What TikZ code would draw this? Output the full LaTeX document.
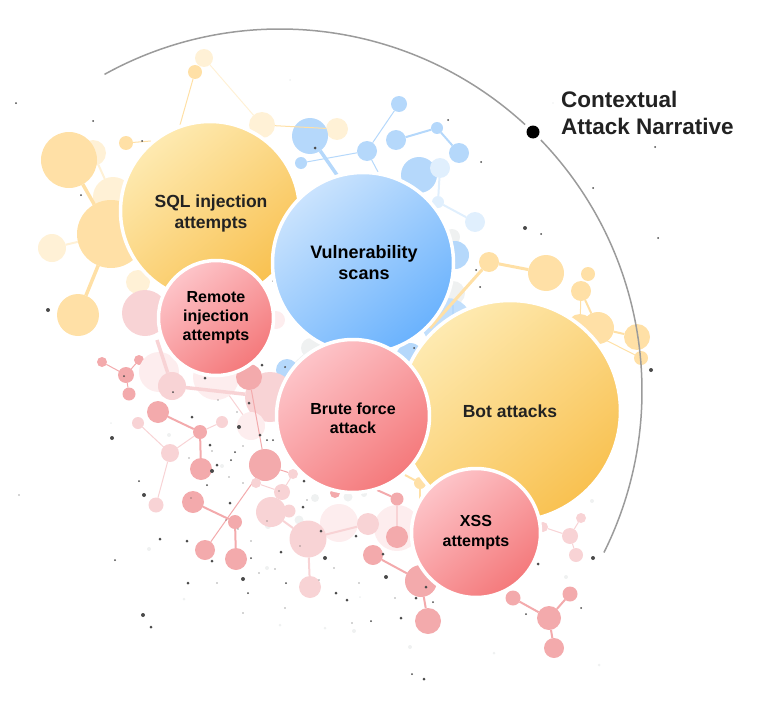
\documentclass[tikz,border=0pt]{standalone}
\usepackage{fontspec}
\setmainfont{Liberation Sans}
\definecolor{oc}{HTML}{FFE0A6}
\definecolor{ol}{HTML}{FFF1D6}
\definecolor{bc}{HTML}{B5D8FB}
\definecolor{bl}{HTML}{E0EFFD}
\definecolor{rc}{HTML}{F3AAAC}
\definecolor{rl}{HTML}{F8D3D5}
\definecolor{rv}{HTML}{FDEDEE}
\definecolor{gv}{HTML}{EFF1F1}
\definecolor{dotc}{HTML}{4A4A4A}
\definecolor{arcc}{HTML}{9B9B9B}
\definecolor{txt}{HTML}{222222}
\pgfdeclareverticalshading{orangeg}{100bp}{rgb(0bp)=(.97,.725,.24); rgb(15bp)=(.97,.725,.24); rgb(85bp)=(1,.95,.77); rgb(100bp)=(1,.95,.77)}
\pgfdeclareverticalshading{blueg}{100bp}{rgb(0bp)=(.34,.66,.99); rgb(15bp)=(.34,.66,.99); rgb(85bp)=(.87,.93,.995); rgb(100bp)=(.87,.93,.995)}
\pgfdeclareverticalshading{redg}{100bp}{rgb(0bp)=(.95,.415,.42); rgb(15bp)=(.95,.415,.42); rgb(85bp)=(1,.83,.85); rgb(100bp)=(1,.83,.85)}
\newcommand{\mol}[5]{\node[mol,fill=#5,minimum size=2*#4 pt] (#1) at (#2,#3) {};}
\tikzset{
  mol/.style={circle,inner sep=0pt,outer sep=0pt,draw=none},
  bigc/.style={circle,inner sep=0pt,outer sep=0pt,draw=white,line width=3.5pt,align=center,shade,shading angle=40,font=\bfseries},
  thk/.style={line width=3.5pt},
  med/.style={line width=2pt},
  thn/.style={line width=1pt}
}
\begin{document}
\begin{tikzpicture}[x=1pt,y=-1pt]
\useasboundingbox (0,0) rectangle (763,701);
% --- pale grey specks
\foreach \x/\y/\r in {169/435/2,111/423/1,222/466/2,315/498/4,348/497/4.5,364/494/3,299/520/4.5,268/526/3,149/549/2,267/568/2,184/599/1.5,280/625/1.5,325/628/1.5,354/631/2,360/597/1,592/501/2,566/577/2,410/647/2,494/653/1.5,599/665/1.5,553/103/.8,430/165/.8,290/80/1}
  \fill[gv] (\x,\y) circle[radius=\r pt];
% --- orange molecule, upper left
\mol{ob}{93}{153}{13}{ol}
\mol{oe}{113}{197}{20}{ol}
\mol{of}{138}{282}{12}{ol}
\mol{og}{204}{58}{9}{ol}\mol{oh}{195}{72}{7}{oc}\mol{oi}{262}{125}{13}{ol}\mol{oj}{337}{129}{11}{ol}
\mol{ok}{126}{143}{7}{oc}
\coordinate (okend) at (151,141);
\coordinate (ohend) at (180,125);
\mol{oc}{111}{234}{34}{oc}\mol{od}{52}{248}{14}{ol}\mol{om}{78}{315}{21}{oc}
\mol{oa}{69}{160}{28}{oc}
\draw[oc,thk] (oa)--(oc);
\draw[ol,med] (ob)--(oe);
\draw[ol,med] (od)--(oc);
\draw[oc,thk] (oc)--(om);
\draw[oc,thn] (ok)--(okend);
\draw[oc,thn] (oh)--(ohend);
\draw[ol,thn] (og)--(oi);
% --- blue molecule, top
\mol{ba}{310}{136}{18}{bc}\mol{bb}{301}{163}{6}{bc}\mol{bc}{367}{151}{10}{bc}\mol{bd}{399}{104}{8}{bc}
\mol{be}{396}{140}{10}{bc}\mol{bf}{437}{128}{6}{bc}\mol{bg}{459}{153}{10}{bc}
\mol{bh}{419}{175}{18}{bc}\mol{bi}{440}{168}{10}{bl}\mol{bj}{438}{202}{6}{bl}\mol{bk}{475}{222}{10}{bl}
\coordinate (baend) at (337,175);
\coordinate (bcend) at (378,172);
\draw[bc,thn] (bb)--(bc);
\draw[bc,thk] (ba)--(baend);
\draw[bc,thn] (bc)--(bd);
\draw[bc,thn] (bc)--(bcend);
\draw[bc,med] (be)--(bf);
\draw[bc,med] (bf)--(bg);
\draw[bl,med] (bi)--(bj);
\draw[bl,med] (bj)--(bk);
\draw[oc,thn] (oi)--(oj);
% --- blue and grey, centre
\mol{ga}{452}{237}{8}{gv}\mol{gb}{453}{293}{12}{gv}\mol{gc}{311}{348}{10}{gv}
\mol{bm}{455}{255}{14}{bc}\mol{bn}{447}{323}{25}{bc!70!bl}\mol{bo}{287}{370}{11}{bc}\mol{bp}{410}{357}{14}{bc}
\coordinate (gbend) at (453,318);
\draw[bc,med] (gb)--(gbend);
\draw[gv,thn] (bo)--(gc);
% --- orange molecule, right
\mol{pa}{489}{262}{10}{oc}\mol{pb}{546}{273}{18}{oc}\mol{pc}{588}{274}{7}{oc}\mol{pd}{581}{291}{10}{oc}
\mol{pe}{580}{327}{13}{oc}\mol{pf}{598}{328}{16}{oc}\mol{pg}{637}{337}{13}{oc}\mol{ph}{641}{358}{7}{oc}
\mol{pi}{420}{483}{6}{oc}
\coordinate (paend) at (430,328);
\coordinate (piend) at (405,475);
\coordinate (piend2) at (420,500);
\draw[oc,line width=3pt] (pa)--(pb);
\draw[oc,line width=3pt] (pa)--(paend);
\draw[oc,med] (pd)--(pf);
\draw[oc,thn] (pd)--(pe);
\draw[oc,med] (pf)--(pg);
\draw[oc,thn] (pe)--(ph);
\draw[oc,med] (pi)--(piend);
\draw[oc,med] (pi)--(piend2);
% --- red molecules, left
\mol{ra}{102}{362}{5}{rc}\mol{rb}{139}{360}{5}{rc}\mol{rc}{126}{375}{8}{rc}\mol{rd}{129}{394}{6.5}{rc}
\draw[rc,thn] (ra)--(rc);\draw[rc,thn] (rb)--(rc);\draw[rc,thn] (rc)--(rd);
\mol{re}{145}{313}{23}{rl}
\mol{rf}{159}{372}{20}{rv}\mol{rg}{216}{377}{23}{rv}\mol{rh}{270}{397}{25}{rl}\mol{ri}{251}{426}{14}{rv}\mol{rj}{276}{320}{9}{rv}
\mol{rk}{172}{386}{14}{rl}
\coordinate (reend) at (157,340);
\draw[rl,thk] (reend)--(rk);
\draw[rl,thk] (rk)--(rh);
\draw[rl,thn] (rg)--(ri);
\mol{rm}{249}{377}{13}{rc}
\mol{rn}{158}{412}{11}{rc}\mol{ro}{200}{432}{7}{rc}\mol{rp}{222}{422}{6}{rl}\mol{rq}{138}{423}{6}{rl}
\mol{rr}{170}{453}{9}{rl}\mol{rs}{201}{469}{11}{rc}\mol{rt}{156}{505}{7.5}{rl}
\draw[rc,med] (rn)--(ro);\draw[rc,med] (ro)--(rs);
\draw[rl,thn] (ro)--(rp);\draw[rl,thn] (ro)--(rr);\draw[rl,thn] (rq)--(rr);\draw[rl,thn] (rr)--(rt);
% --- red molecules, centre
\mol{sa}{265}{465}{16}{rc}\mol{sb}{193}{502}{11}{rc}\mol{sc}{235}{522}{7}{rc}\mol{sd}{205}{550}{10}{rc}\mol{se}{236}{559}{11}{rc}
\draw[rc,thn] (sa)--(rm);
\draw[rc,thn] (sa)--(sd);
\draw[rc,med] (sb)--(sc);\draw[rc,med] (sc)--(se);
\mol{sf}{256}{483}{5}{rl}\mol{sg}{293}{474}{5}{rl}\mol{sh}{282}{492}{8}{rl}\mol{si}{271}{512}{15}{rl}\mol{sj}{289}{511}{6.5}{rl}
\mol{sq}{339}{523}{19}{rv}\mol{sr}{397}{528}{23}{rv}
\mol{sk}{308}{539}{18.5}{rl}\mol{sm}{310}{587}{11}{rl}\mol{sn}{368}{524}{11}{rl}
\mol{so}{335}{493}{5}{rc}
\draw[rc,thn] (sa)--(sg);
\draw[rl,thn] (sf)--(sh);\draw[rl,thn] (sh)--(sg);
\draw[rl,med] (si)--(sk);\draw[rl,med] (sk)--(sm);\draw[rl,med] (sk)--(sn);
% --- red molecules, lower right
\mol{ua}{397}{499}{6.5}{rc}\mol{ub}{397}{537}{11}{rc}\mol{uc}{373}{555}{10}{rc}\mol{ud}{421}{581}{16}{rc}\mol{ue}{428}{621}{13}{rc}
\coordinate (uaend) at (377,490);
\draw[rl,med] (ua)--(ub);\draw[rc,med] (ua)--(uaend);
\draw[rc,med] (uc)--(ud);\draw[rc,med] (ud)--(ue);
\mol{va}{513}{598}{7.5}{rc}\mol{vb}{570}{594}{7.5}{rc}\mol{vc}{549}{618}{12}{rc}\mol{vd}{554}{648}{10}{rc}
\draw[rc,med] (va)--(vc);\draw[rc,med] (vb)--(vc);\draw[rc,med] (vc)--(vd);
\mol{wa}{570}{536}{8}{rl}\mol{wb}{581}{518}{5}{rl}\mol{wc}{576}{555}{7}{rl}\mol{wd}{543}{527}{5}{rl}
\draw[rl,thn] (wa)--(wb);\draw[rl,thn] (wa)--(wc);\draw[rl,thn] (wa)--(wd);
% --- dark specks
\foreach \x/\y/\r in {16/103/1,93/121/1,142/141/1,81/195/1,48/310/2,19/495/.7,315/148/1.5,273/281/1,448/120/1,481/162/1,655/147/1,593/188/1,525/228/2,541/234/1,658/238/1,476/270/1,480/287/1,414/348/1,651/370/2,
262/365/1.5,285/367/1,124/376/1,205/378/1.5,173/392/1,218/400/.7,249/403/1.5,237/412/.7,192/417/1.5,239/427/2,112/438/2,260/435/1.5,267/440/1,273/440/1,210/445/1.5,212/451/.7,235/452/1,243/446/.7,189/458/.7,231/460/1,217/465/1.5,212/471/2,229/477/.7,139/481/1,207/485/1,243/483/.7,144/495/2,304/481/1.5,279/491/.7,307/500/.7,303/507/1.5,230/503/1.5,191/498/.7,267/521/.7,226/520/.7,238/529/.7,321/531/1.5,356/536/1.5,160/539/1.5,187/541/1.5,251/541/.7,300/546/.7,281/552/1.5,115/560/1,212/561/1.5,251/558/1,325/558/2,383/554/1.5,334/568/.7,259/573/.7,275/569/.7,243/579/2,188/583/1.5,217/583/.7,286/583/1,319/580/.7,386/577/2,359/583/.7,248/593/1,336/593/1.5,347/600/1.5,285/608/.7,243/613/.7,143/615/2,151/627/1.5,352/623/.7,371/621/1,
426/587/1.5,416/598/1.5,433/602/1,401/618/1.5,538/564/1.5,593/558/2,526/614/1,581/608/1,412/674/1,424/679/1.5,395/598/.7}
  \fill[dotc] (\x,\y) circle[radius=\r pt];
% --- large labelled circles
\node[bigc,shading=orangeg,minimum size=179pt] (sql) at (210,211) {};
\node[bigc,shading=redg,minimum size=115pt] (remote) at (216,318) {};
\node[bigc,shading=orangeg,minimum size=221pt] (bot) at (510,411) {};
\node[bigc,shading=blueg,minimum size=181pt] (vuln) at (363,263) {};
\node[bigc,shading=redg,minimum size=153pt] (brute) at (353,416) {};
\node[bigc,shading=redg,minimum size=129pt] (xss) at (476,533) {};
\node[font=\bfseries\fontsize{17.5}{21}\selectfont,align=center,text=txt] (sqlt) at (211,213) {SQL injection\\attempts};
\node[font=\bfseries\fontsize{18}{21}\selectfont,align=center,text=black] (vulnt) at (364,263) {Vulnerability\\scans};
\node[font=\bfseries\fontsize{16}{19}\selectfont,align=center,text=black] (remotet) at (216,318) {Remote\\injection\\attempts};
\node[font=\bfseries\fontsize{16}{19}\selectfont,align=center,text=black] (brutet) at (353,418) {Brute force\\attack};
\node[font=\bfseries\fontsize{17.5}{21}\selectfont,text=txt] (bott) at (510,411) {Bot attacks};
\node[font=\bfseries\fontsize{16}{20}\selectfont,align=center,text=black] (xsst) at (476,533) {XSS\\attempts};
% --- outer arc and its label
\coordinate (arccentre) at (280,391);
\draw[arcc,line width=1.5pt] ([shift={(arccentre)}]119:362pt) arc[start angle=119,end angle=47.4,radius=362pt];
\draw[arcc,line width=1.5pt] ([shift={(arccentre)}]43.9:362pt) arc[start angle=43.9,end angle=-26.5,radius=362pt];
\node[mol,fill=black,minimum size=13pt] (marker) at (533,132) {};
\node[anchor=west,align=left,inner sep=0pt,font=\bfseries\fontsize{22.5}{27}\selectfont,text=txt] (narr) at (561,112.5) {Contextual\\Attack Narrative};
\end{tikzpicture}
\end{document}
